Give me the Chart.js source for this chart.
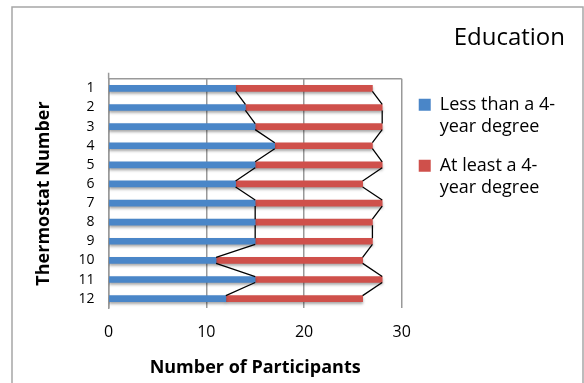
<!DOCTYPE html>
<html>
<head>
<meta charset="utf-8">
<script src="https://cdn.jsdelivr.net/npm/chart.js@4.4.1/dist/chart.umd.min.js"></script>
<style>
  html, body { margin: 0; padding: 0; background: #fff; }
  #wrap { width: 584px; height: 383px; }
</style>
</head>
<body>
<div id="wrap"><canvas id="c" width="584" height="383"></canvas></div>
<script>
const thermostats = ['1', '2', '3', '4', '5', '6', '7', '8', '9', '10', '11', '12'];
const lessThan4yr = [13, 14, 15, 17, 15, 13, 15, 15, 15, 11, 15, 12];
const atLeast4yr = [14, 14, 13, 10, 13, 13, 13, 12, 12, 15, 13, 14];
const seriesNames = ['Less than a 4-year degree', 'At least a 4-year degree'];
const legendLines = [['Less than a 4-', 'year degree'], ['At least a 4-', 'year degree']];
const xTicks = [0, 10, 20, 30];

const FONT = '"Open Sans", sans-serif';

// frame round the whole chart + top line of plot area
const framePlugin = {
  id: 'frame',
  beforeDraw(chart) {
    const ctx = chart.ctx;
    ctx.save();
    ctx.fillStyle = '#fff';
    ctx.fillRect(0, 0, chart.width, chart.height);
    ctx.strokeStyle = '#a6a6a6';
    ctx.lineWidth = 1.5;
    ctx.strokeRect(12, 7, chart.width - 13, chart.height);
    ctx.restore();
  },
  beforeDatasetsDraw(chart) {
    const { ctx, chartArea } = chart;
    ctx.save();
    ctx.strokeStyle = '#999';
    ctx.lineWidth = 1.5;
    ctx.beginPath();
    ctx.moveTo(chartArea.left, chartArea.top);
    ctx.lineTo(chartArea.right, chartArea.top);
    ctx.moveTo(chartArea.left, chartArea.top - 6);
    ctx.lineTo(chartArea.left, chartArea.top);
    ctx.stroke();
    ctx.restore();
    // soft shadow under the bars
    ctx.save();
    ctx.shadowColor = 'rgba(0,0,0,0.35)';
    ctx.shadowBlur = 3;
    ctx.shadowOffsetY = 2;
  },
  afterDatasetsDraw(chart) {
    const ctx = chart.ctx;
    ctx.restore();
    // series lines joining the ends of each bar segment
    ctx.save();
    ctx.strokeStyle = '#000';
    ctx.lineWidth = 1.3;
    chart.data.datasets.forEach((ds, di) => {
      const bars = chart.getDatasetMeta(di).data;
      ctx.beginPath();
      for (let i = 0; i < bars.length - 1; i++) {
        const a = bars[i], b = bars[i + 1];
        ctx.moveTo(a.x, a.y + a.height / 2);
        ctx.lineTo(b.x, b.y - b.height / 2);
      }
      ctx.stroke();
    });
    ctx.restore();
  }
};

function draw() {
  new Chart(document.getElementById('c'), {
    type: 'bar',
    data: {
      labels: thermostats,
      datasets: [
        { label: seriesNames[0], data: lessThan4yr, backgroundColor: '#4A86C8', barThickness: 6 },
        { label: seriesNames[1], data: atLeast4yr, backgroundColor: '#CF504B', barThickness: 6 }
      ]
    },
    options: {
      indexAxis: 'y',
      responsive: false,
      animation: false,
      layout: { padding: { left: 33, right: 19, top: 14, bottom: 4 } },
      scales: {
        x: {
          stacked: true,
          min: 0,
          max: 30,
          afterBuildTicks(axis) { axis.ticks = xTicks.map(v => ({ value: v })); },
          grid: { color: '#999', lineWidth: 1.5, drawTicks: false },
          border: { display: false },
          ticks: { color: '#000', padding: 15, font: { family: FONT, size: 16 } },
          title: {
            display: true, text: 'Number of Participants', color: '#000',
            padding: { top: 0, bottom: 0 },
            font: { family: FONT, size: 18, weight: 'bold' }
          }
        },
        y: {
          stacked: true,
          grid: { display: false, drawTicks: false },
          border: { display: true, color: '#999', width: 1.5 },
          ticks: { color: '#000', padding: 14, autoSkip: false, font: { family: FONT, size: 14 } },
          title: {
            display: true, text: 'Thermostat Number', color: '#000',
            padding: { top: 0, bottom: 10 },
            font: { family: FONT, size: 18, weight: 'bold' }
          }
        }
      },
      plugins: {
        title: {
          display: true, text: 'Education', align: 'end', color: '#000',
          padding: { top: 10, bottom: 26 },
          font: { family: FONT, size: 24, weight: 'normal' }
        },
        legend: {
          position: 'right',
          align: 'start',
          fullSize: false,
          maxWidth: 200,
          labels: {
            boxWidth: 12, boxHeight: 12, padding: 17, color: '#000',
            font: { family: FONT, size: 18, lineHeight: 1.22 },
            generateLabels(chart) {
              const items = Chart.defaults.plugins.legend.labels.generateLabels(chart);
              items.forEach((it, i) => { it.text = legendLines[i]; it.lineWidth = 0; });
              return items;
            }
          }
        },
        tooltip: { enabled: false }
      }
    },
    plugins: [framePlugin]
  });
}

const fontsReady = Promise.all([
  document.fonts.load('18px "Open Sans"'),
  document.fonts.load('bold 18px "Open Sans"')
]).catch(() => {});
fontsReady.then(draw);
</script>
</body>
</html>
